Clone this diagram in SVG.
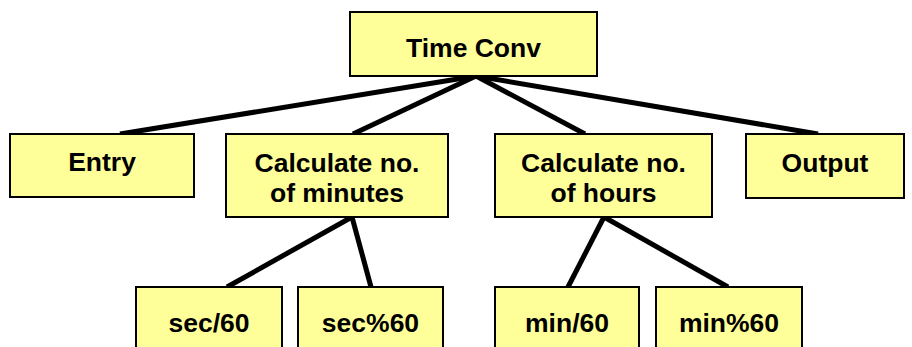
<svg xmlns="http://www.w3.org/2000/svg" width="912" height="347" viewBox="0 0 912 347">
<style>
.box{fill:#FFFF99;stroke:#000;stroke-width:2}
.t{font-family:"Liberation Sans",Arial,sans-serif;font-weight:bold;font-size:26.5px;text-anchor:middle;fill:#000}
.c{stroke:#000;stroke-width:5;stroke-linecap:butt;fill:none}
</style>
<rect width="912" height="347" fill="#fff"/>
<g id="connectors">
<line class="c" x1="476" y1="76" x2="120" y2="134"/>
<line class="c" x1="476" y1="76" x2="353" y2="134"/>
<line class="c" x1="476" y1="76" x2="585" y2="134"/>
<line class="c" x1="476" y1="76" x2="818" y2="134"/>
<line class="c" x1="352" y1="217" x2="227" y2="287"/>
<line class="c" x1="352" y1="217" x2="371" y2="287"/>
<line class="c" x1="604" y1="217" x2="568" y2="287"/>
<line class="c" x1="604" y1="217" x2="728" y2="287"/>
</g>
<g id="timeconv"><rect class="box" x="350" y="12" width="247" height="64"/><text class="t" x="473.5" y="57">Time Conv</text></g>
<g id="entry"><rect class="box" x="10" y="134" width="184" height="63"/><text class="t" x="102" y="171">Entry</text></g>
<g id="calcmin"><rect class="box" x="226" y="134" width="222" height="83"/><text class="t" x="337" y="171.5">Calculate no.</text><text class="t" x="337" y="201.5">of minutes</text></g>
<g id="calchours"><rect class="box" x="495" y="134" width="217" height="83"/><text class="t" x="603.5" y="171.5">Calculate no.</text><text class="t" x="603.5" y="201.5">of hours</text></g>
<g id="output"><rect class="box" x="746" y="134" width="158" height="64"/><text class="t" x="825" y="172">Output</text></g>
<g id="sec60"><rect class="box" x="136" y="287" width="146" height="72"/><text class="t" x="209" y="332">sec/60</text></g>
<g id="secmod60"><rect class="box" x="298" y="287" width="145" height="72"/><text class="t" x="370.5" y="332">sec%60</text></g>
<g id="min60"><rect class="box" x="495" y="287" width="144" height="72"/><text class="t" x="567" y="332">min/60</text></g>
<g id="minmod60"><rect class="box" x="656" y="287" width="146" height="72"/><text class="t" x="729" y="332">min%60</text></g>
</svg>
